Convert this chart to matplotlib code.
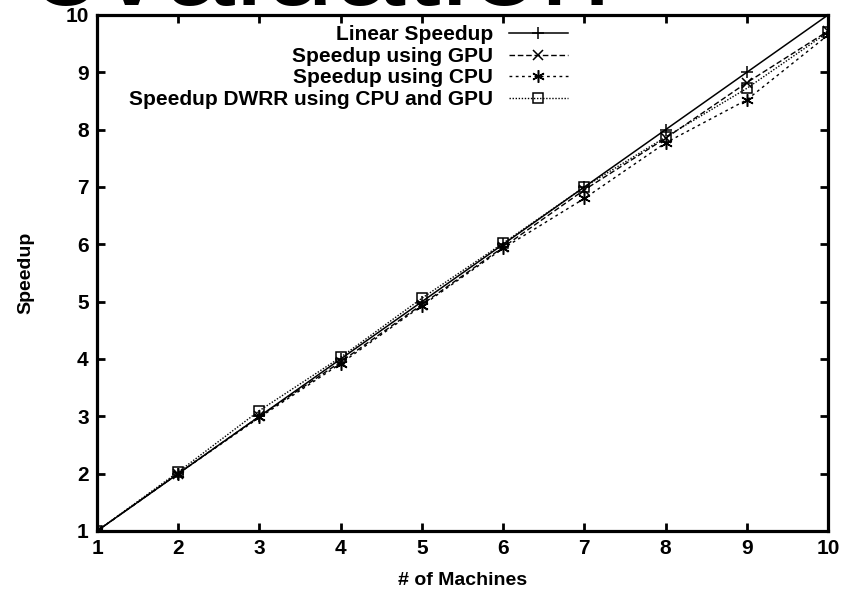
import matplotlib
matplotlib.use('Agg')
import matplotlib.pyplot as plt

# values
machines = [1, 2, 3, 4, 5, 6, 7, 8, 9, 10]
linear = [1, 2, 3, 4, 5, 6, 7, 8, 9, 10]
gpu = [1, 2.0, 3.0, 3.95, 4.95, 5.95, 6.95, 7.85, 8.82, 9.72]
cpu = [1, 2.0, 2.98, 3.92, 4.93, 5.93, 6.8, 7.77, 8.52, 9.65]
dwrr = [1, 2.03, 3.1, 4.03, 5.06, 6.02, 7.0, 7.87, 8.72, 9.7]

plt.rcParams['font.family'] = ['Liberation Sans', 'DejaVu Sans']

fig = plt.figure(figsize=(8.46, 5.98), dpi=100)
ax = fig.add_axes([97/846, 1 - 531/598, (828 - 97)/846, (531 - 15)/598])

# slide title, cut off at the top of the picture
fig.text(30/846, 1 - 5/598, 'evaluation', fontsize=92, color='black', ha='left', va='baseline')

ax.plot(machines, linear, color='black', lw=1.1, ls='-', marker='+', ms=9, mew=1.1, label='Linear Speedup')
ax.plot(machines, gpu, color='black', lw=1.0, ls=(0, (4, 2)), marker='x', ms=7, mew=1.1, label='Speedup using GPU')
ax.plot(machines, cpu, color='black', lw=1.0, ls=(0, (2, 2.5)), marker=(6, 2, 0), ms=9, mew=1.1, label='Speedup using CPU')
ax.plot(machines, dwrr, color='black', lw=1.0, ls=(0, (1, 1.2)), marker='s', ms=7, mew=1.1, mfc='none', label='Speedup DWRR using CPU and GPU')

ax.set_xlim(1, 10)
ax.set_ylim(1, 10)
ax.set_xticks(machines)
ax.set_yticks(linear)

for s in ax.spines.values():
    s.set_linewidth(2.3)
ax.tick_params(direction='in', length=6, width=2, top=True, right=True, pad=6)
for t in ax.get_xticklabels() + ax.get_yticklabels():
    t.set_fontsize(15)
    t.set_fontweight('bold')

ax.set_xlabel('# of Machines', fontsize=14, fontweight='bold', labelpad=10)
ax.set_ylabel('Speedup', fontsize=14, fontweight='bold', labelpad=22)

# gnuplot style key: text right aligned, sample after it
leg = ax.legend(loc='upper right', bbox_to_anchor=(0.65, 0.988), frameon=False, markerfirst=False,
                prop={'weight': 'bold', 'size': 15}, handlelength=2.85, handletextpad=0.75,
                labelspacing=0.12, borderaxespad=0, borderpad=0.2)

fig.savefig('out.png', dpi=100)
